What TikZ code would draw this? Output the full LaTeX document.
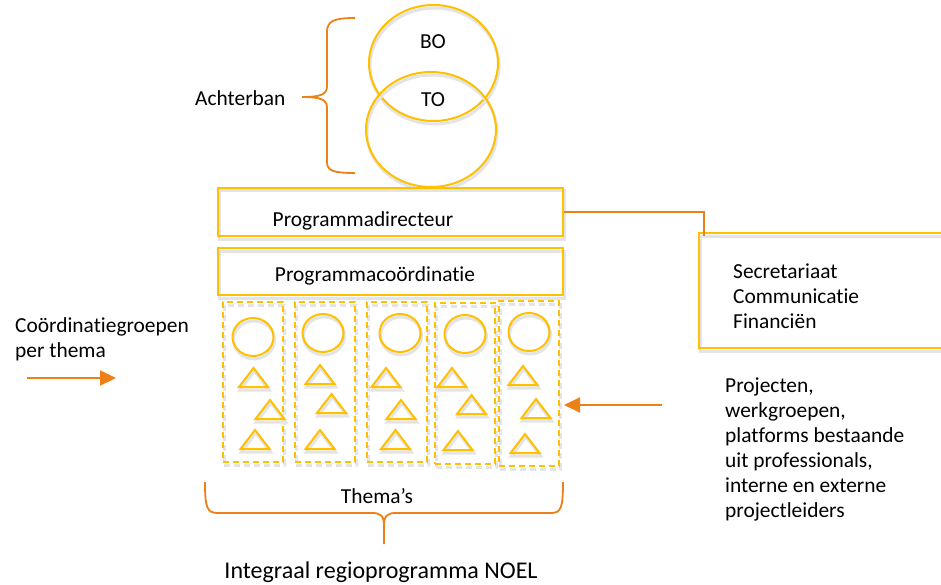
\documentclass[tikz,border=0pt]{standalone}
\usepackage{fontspec}
\setmainfont[Ligatures={NoCommon}]{Carlito}
\usetikzlibrary{arrows.meta,shapes.geometric}
\definecolor{gold}{RGB}{255,192,0}
\definecolor{orng}{RGB}{238,128,24}
\definecolor{shad}{RGB}{228,228,228}
\tikzset{
  goldline/.style={draw=gold, line width=2pt},
  shadowed/.style={preaction={draw=shad, line width=3pt, transform canvas={shift={(1pt,-3pt)}}}},
  boxnode/.style={goldline, shadowed, rectangle, inner sep=0pt},
  ovalnode/.style={goldline, shadowed, ellipse, inner sep=0pt},
  colbox/.style={goldline, shadowed, rectangle, inner sep=0pt, dash pattern=on 6pt off 4pt},
  txt/.style={font=\fontsize{21.4}{25}\selectfont, inner sep=0pt, text=black},
  bracestyle/.style={draw=orng, line width=1.8pt},
  orarrow/.style={draw=orng, line width=2.2pt, -{Triangle[length=16pt,width=15pt]}},
  conn/.style={draw=orng, line width=1.3pt},
}
\newcommand{\tri}[2]{\draw[goldline, shadowed, line join=miter] (#1-14.5,#2+19) -- (#1,#2) -- (#1+14.5,#2+19) -- cycle;}
\begin{document}
\begin{tikzpicture}[x=1pt,y=-1pt]
\clip (0,0) rectangle (941,585);
\fill[white] (0,0) rectangle (941,585);
% circles
\node[ovalnode, minimum width=129pt, minimum height=116pt] (bo) at (433.5,63) {};
\node[ovalnode, minimum width=130pt, minimum height=115pt] (to) at (431,129.5) {};
\node[txt] (bot) at (433,42) {BO};
\node[txt] (tot) at (433,100) {TO};
% achterban brace
\draw[bracestyle] (355,18) .. controls (334,18) and (327,21) .. (327,32) -- (327,86)
   .. controls (327,94) and (322,97) .. (302,97);
\draw[bracestyle] (302,97) .. controls (322,97) and (327,100) .. (327,108) -- (327,162)
   .. controls (327,171) and (334,173) .. (355,173);
\node[txt, anchor=west] (ach) at (195,98) {Achterban};
% boxes
\node[boxnode, minimum width=345pt, minimum height=48pt] (pd) at (390.5,212) {};
\node[txt] (pdt) at (363,221) {Programmadirecteur};
\node[boxnode, minimum width=345pt, minimum height=47pt] (pc) at (390.5,271.5) {};
\node[txt] (pct) at (375,276) {Programmacoördinatie};
% secretariaat
\node[boxnode, minimum width=300pt, minimum height=115pt, anchor=north west] (sec) at (698,232) {};
\node[txt, anchor=west, align=left] (sect) at (733,296) {Secretariaat\\Communicatie\\Financiën};
\coordinate (secin) at (704,236);
\draw[conn] (pd.east) -| (secin);
% columns
\node[colbox, minimum width=60pt, minimum height=160pt] (c1) at (253,382) {};
\node[colbox, minimum width=60pt, minimum height=160pt] (c2) at (325,382) {};
\node[colbox, minimum width=60pt, minimum height=160pt] (c3) at (397,382) {};
\node[colbox, minimum width=60pt, minimum height=161pt] (c4) at (465,383.5) {};
\node[colbox, minimum width=60pt, minimum height=165pt] (c5) at (529,383.5) {};
\foreach \n/\x/\y in {1/253/337, 2/323/333, 3/400/333, 4/465/334, 5/529/332}
  \node[ovalnode, minimum width=41pt, minimum height=38pt] (k\n) at (\x,\y) {};
\tri{253.5}{368}\tri{270}{400}\tri{255}{430}
\tri{320}{365}\tri{331.5}{394}\tri{320}{430}
\tri{386}{368}\tri{401}{400}\tri{395.5}{430}
\tri{452}{368}\tri{471.5}{395}\tri{458}{431}
\tri{523}{366}\tri{536}{399}\tri{525}{434}
% left text and arrow
\node[txt, anchor=west, align=left] (cg) at (15,339) {Coördinatiegroepen\\per thema};
\coordinate (la0) at (27,378);
\coordinate (la1) at (116,378);
\draw[orarrow] (la0) -- (la1);
% right text and arrow
\coordinate (ra0) at (662,405);
\coordinate (ra1) at (564,405);
\draw[orarrow] (ra0) -- (ra1);
\node[txt, anchor=west, align=left] (proj) at (725,449.5) {Projecten,\\werkgroepen,\\platforms bestaande\\uit professionals,\\interne en externe\\projectleiders};
% thema brace
\draw[bracestyle] (205,482) .. controls (205,508) and (207,513) .. (218,513) -- (372,513)
   .. controls (381,513) and (384,516) .. (384,526) -- (384,544);
\draw[bracestyle] (384,526) .. controls (384,516) and (387,513) .. (396,513) -- (551,513)
   .. controls (561,513) and (563,508) .. (563,482);
\node[txt] (thm) at (377,496) {Thema’s};
\node[txt, font=\fontsize{24}{28}\selectfont] (noel) at (381,572) {Integraal regioprogramma NOEL};
\end{tikzpicture}
\end{document}
